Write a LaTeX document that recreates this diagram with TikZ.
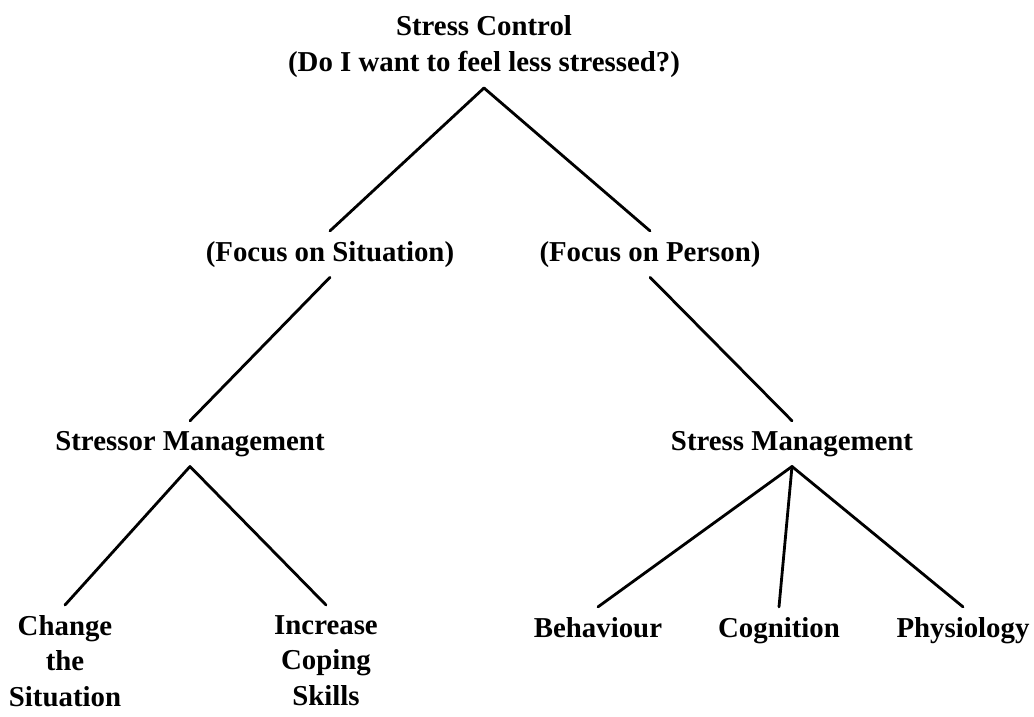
\documentclass[tikz,border=0pt]{standalone}
\usepackage{fontspec}
\setmainfont{Liberation Serif}
\usepackage{tikz}
\usetikzlibrary{positioning}

\begin{document}
\begin{tikzpicture}[x=0.025cm, y=-0.025cm,
    lbl/.style={inner sep=7pt, align=center,
        font=\fontsize{20.5}{25.5}\selectfont\bfseries},
    branch/.style={line width=2pt, line cap=round}]

\useasboundingbox (0,0) rectangle (1034,717);

\node[lbl, anchor=south](ctrl) at (484,88){Stress Control\\(Do I want to feel less stressed?)};
\node[lbl, anchor=base](sit) at (330,261){(Focus on Situation)};
\node[lbl, anchor=base](per) at (650,261){(Focus on Person)};
\node[lbl, anchor=base](smr) at (190,450){Stressor Management};
\node[lbl, anchor=base](stm) at (792,450){Stress Management};
\node[lbl, anchor=north](chg) at (65,605){Change\\the\\Situation};
\node[lbl, anchor=north](inc) at (326,605){Increase\\Coping\\Skills};
\node[lbl, anchor=base](beh) at (598,637){Behaviour};
\node[lbl, anchor=base](cog) at (779,637){Cognition};
\node[lbl, anchor=base](phy) at (963,637){Physiology};

\path[branch]
(ctrl.south) edge (sit.north)
(ctrl.south) edge (per.north);
\path[branch]
(sit.south) edge (smr.north)
(per.south) edge (stm.north);
\path[branch]
(smr.south) edge (chg.north)
(smr.south) edge (inc.north);
\path[branch]
(stm.south) edge (beh.north)
(stm.south) edge (cog.north)
(stm.south) edge (phy.north);

\end{tikzpicture}
\end{document}
